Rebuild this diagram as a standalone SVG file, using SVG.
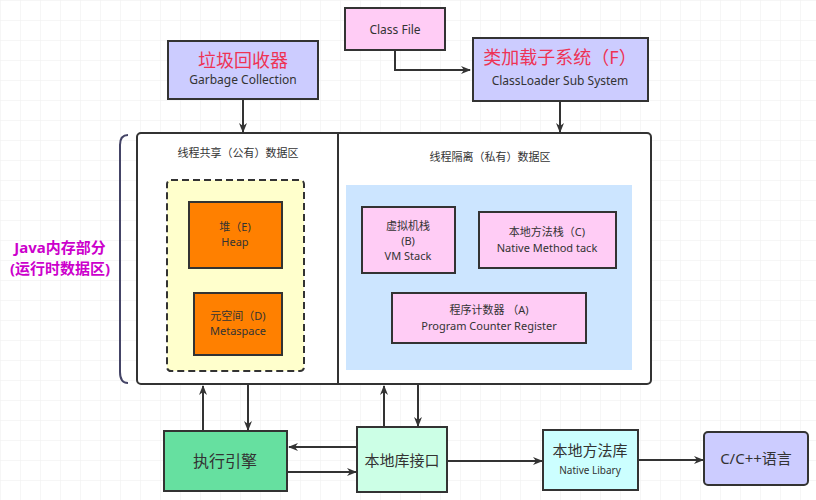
<svg xmlns="http://www.w3.org/2000/svg" width="816" height="500" viewBox="0 0 816 500">
<defs>
<marker id="ah" markerWidth="10" markerHeight="10" refX="9" refY="5" orient="auto" markerUnits="userSpaceOnUse"><path d="M0,1 L10,5 L0,9 L3,5 Z" fill="#333"/></marker>
<pattern id="grid" width="20" height="20" patternUnits="userSpaceOnUse"><path d="M20 0 H0 V20" fill="none" stroke="#eee" stroke-width="1"/></pattern>
</defs>
<style>
.b{stroke:#333;stroke-width:2}
.t{font-family:"Noto Sans","Noto Sans CJK SC",sans-serif;text-anchor:middle;fill:#333}
.c{stroke:#333;stroke-width:2;fill:none;marker-end:url(#ah)}
</style>
<rect width="816" height="500" fill="#fff"/>
<rect width="816" height="500" fill="url(#grid)"/>
<g id="classfile"><rect class="b" x="345" y="8" width="100" height="42" fill="#ffccf5"/><text class="t" x="395" y="34" font-size="12">Class File</text></g>
<g id="gc"><rect class="b" x="168" y="41" width="150" height="58" fill="#ccccff"/><text class="t" x="243" y="67" font-size="18" style="fill:#ee3355">垃圾回收器</text><text class="t" x="243" y="84" font-size="12">Garbage Collection</text></g>
<g id="classloader"><rect class="b" x="473" y="38" width="175" height="63" fill="#ccccff"/><text class="t" x="560" y="64" font-size="18" style="fill:#ee3355">类加载子系统（F）</text><text class="t" x="560" y="85" font-size="12">ClassLoader Sub System</text></g>
<g id="memlabel"><path d="M128,135 Q120,135 120,145 V372 Q120,383 128,383" fill="none" stroke="#446" stroke-width="2"/><text class="t" x="60" y="253" font-size="15" font-weight="bold" style="fill:#cc00cc">Java内存部分</text><text class="t" x="60" y="274" font-size="15" font-weight="bold" style="fill:#cc00cc">(运行时数据区)</text></g>
<g id="runtime"><rect class="b" x="137" y="133" width="514" height="251" rx="4" fill="#fff"/><line class="b" x1="338" y1="133" x2="338" y2="384"/><text class="t" x="238" y="157" font-size="11">线程共享（公有）数据区</text><text class="t" x="490" y="161" font-size="11">线程隔离（私有）数据区</text></g>
<g id="shared"><rect x="167" y="180" width="137" height="191" rx="4" fill="#ffffcc" stroke="#333" stroke-width="2" stroke-dasharray="7,4"/></g>
<g id="heap"><rect class="b" x="189" y="202" width="93" height="66" fill="#ff8000"/><text class="t" x="235" y="231" font-size="11">堆（E)</text><text class="t" x="235" y="246" font-size="11">Heap</text></g>
<g id="meta"><rect class="b" x="194" y="293" width="88" height="62" fill="#ff8000"/><text class="t" x="238" y="320" font-size="11">元空间（D)</text><text class="t" x="238" y="335" font-size="11">Metaspace</text></g>
<g id="private"><rect x="346" y="185" width="286" height="185" fill="#cce5ff"/></g>
<g id="vmstack"><rect class="b" x="362" y="207" width="93" height="66" fill="#ffccf5"/><text class="t" x="408" y="230" font-size="11">虚拟机栈</text><text class="t" x="408" y="245" font-size="11">(B)</text><text class="t" x="408" y="260" font-size="11">VM Stack</text></g>
<g id="nms"><rect class="b" x="479" y="212" width="137" height="56" fill="#ffccf5"/><text class="t" x="547" y="236" font-size="11">本地方法栈（C)</text><text class="t" x="547" y="252" font-size="11">Native Method tack</text></g>
<g id="pc"><rect class="b" x="392" y="293" width="194" height="50" fill="#ffccf5"/><text class="t" x="489" y="314" font-size="11">程序计数器 （A)</text><text class="t" x="489" y="330" font-size="11">Program Counter Register</text></g>
<g id="engine"><rect class="b" x="164" y="431" width="123" height="60" fill="#66e0a0"/><text class="t" x="225" y="467" font-size="16">执行引擎</text></g>
<g id="jni"><rect class="b" x="357" y="427" width="90" height="65" fill="#ccffe6"/><text class="t" x="402" y="466" font-size="15">本地库接口</text></g>
<g id="natlib"><rect class="b" x="543" y="430" width="95" height="60" fill="#ccffff"/><text class="t" x="590" y="456" font-size="15">本地方法库</text><text class="t" x="590" y="474" font-size="10">Native Libary</text></g>
<g id="cpp"><rect class="b" x="704" y="432" width="104" height="53" rx="4" fill="#ccccff"/><text class="t" x="756" y="464" font-size="15">C/C++语言</text></g>
<g id="connectors">
<path class="c" d="M395,50 V70 H470"/>
<path class="c" d="M243,99 V132"/>
<path class="c" d="M560,101 V132"/>
<path class="c" d="M203,431 V386"/>
<path class="c" d="M248,384 V430"/>
<path class="c" d="M384,427 V386"/>
<path class="c" d="M418,384 V426"/>
<path class="c" d="M357,447 H289"/>
<path class="c" d="M287,472 H356"/>
<path class="c" d="M447,461 H542"/>
<path class="c" d="M638,460 H703"/>
</g>
</svg>
